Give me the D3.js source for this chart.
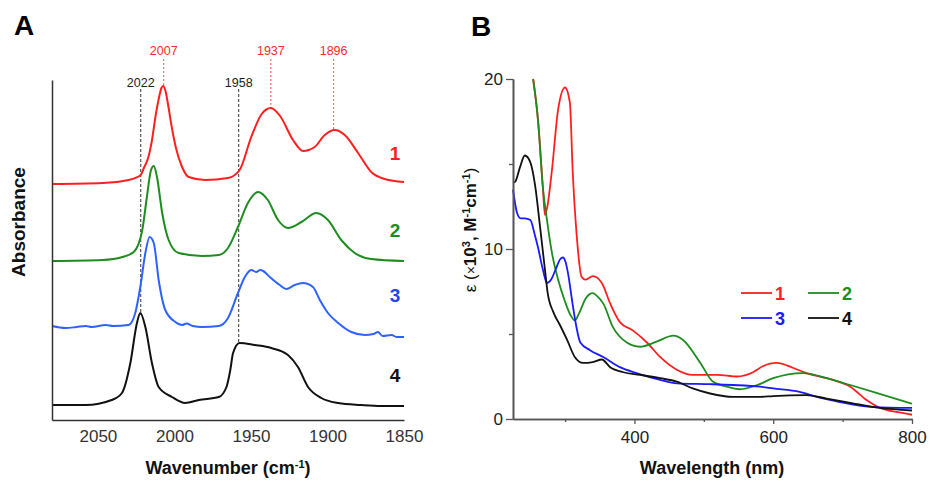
<!DOCTYPE html>
<html>
<head>
<meta charset="utf-8">
<script src="https://cdn.jsdelivr.net/npm/d3@7"></script>
<style>
  html, body { margin: 0; padding: 0; background: #fff; }
  text { font-family: "Liberation Sans", Arial, sans-serif; }
</style>
</head>
<body>
<svg id="chart" width="930" height="481"></svg>
<script>
// ---------- Panel A: IR spectra (wavenumber, absorbance a.u.) ----------
const irWave1 = [2080,2047,2030,2022,2020,2017,2015,2012,2010,2008.5,2007.3,2006,2004,2002,1999,1995,1990.7,1980,1965,1957.4,1949.8,1943,1937,1931,1922.5,1916,1908.4,1901.8,1895.3,1888.7,1880,1871.4,1862.6,1850];
const irAbs1  = [2.36,2.37,2.40,2.45,2.52,2.63,2.77,3.07,3.23,3.32,3.34,3.30,3.14,2.95,2.72,2.53,2.43,2.40,2.42,2.50,2.83,3.06,3.12,3.04,2.80,2.69,2.73,2.85,2.90,2.85,2.67,2.48,2.41,2.38];

const irWave2 = [2080,2047,2034,2026.6,2021,2018,2015.3,2013.5,2011.4,2008,2003.8,1997.2,1982,1971,1965,1958.5,1952,1945.4,1939,1932.3,1925.8,1917,1907.3,1899.7,1891,1882.2,1871.4,1850];
const irAbs2  = [1.59,1.60,1.63,1.68,1.90,2.23,2.50,2.54,2.43,2.07,1.80,1.67,1.64,1.65,1.72,1.93,2.17,2.28,2.20,2.00,1.92,1.98,2.07,2.00,1.80,1.67,1.61,1.59];

const irWave3 = [2080,2071,2064,2058,2054,2045,2040,2030,2025.6,2022.3,2019,2016.2,2013.5,2010.3,2006,1999.4,1995,1992,1988,1982,1971,1965,1958.5,1954,1949.8,1946.5,1944,1942,1937.7,1931.2,1926.9,1921.4,1916,1909.5,1905,1899.7,1893,1884.4,1875.6,1870,1867,1864,1858,1855,1850];
const irAbs3  = [0.94,0.92,0.93,0.94,0.93,0.95,0.94,0.95,1.07,1.33,1.67,1.83,1.77,1.40,1.10,0.98,0.95,0.965,0.94,0.93,0.94,1.02,1.27,1.43,1.50,1.48,1.50,1.49,1.43,1.35,1.31,1.35,1.37,1.33,1.20,1.07,0.97,0.88,0.85,0.86,0.88,0.84,0.85,0.83,0.83];

const irWave4 = [2080,2058,2041,2034.3,2028.8,2024.5,2022.3,2019,2014.7,2010.3,2001.6,1993,1984,1971,1966,1963.5,1961.7,1957.4,1947.6,1936.7,1925.8,1919.3,1912.7,1904,1893,1878,1865,1850];
const irAbs4  = [0.15,0.15,0.20,0.27,0.57,0.97,1.07,0.93,0.57,0.33,0.23,0.17,0.20,0.23,0.33,0.50,0.67,0.77,0.75,0.72,0.65,0.53,0.33,0.22,0.17,0.15,0.14,0.14];

const irTicks = [2050,2000,1950,1900,1850];
const irRedMarks = [2007,1937,1896];
const irRedMarkAbs = [3.34,3.12,2.90];
const irBlackMarks = [2022,1958];
const irBlackMarkAbs = [1.05,0.77];
const irLabelAbs = [2.60,1.83,1.18,0.38];

// ---------- Panel B: UV-vis (nm, epsilon x10^3) ----------
const uvNm1 = [254,261,268,271,274.5,281,290,300,307,311,317,324,329,340,353,365,379,398,418,437,461,484,519,548,571,585,605,629,648,686,711,735,754,780,800];
const uvEps1 = [20.0,17.6,13.65,12.0,12.5,14.6,18.2,19.5,18.6,14.6,10.7,8.35,8.2,8.4,8.0,6.8,5.7,5.2,4.5,3.65,2.9,2.6,2.6,2.5,2.75,3.1,3.3,3.0,2.7,2.3,1.9,1.1,0.65,0.4,0.25];

const uvNm2 = [254,261,268,274,281,290,300,308,314,320,330,340,347,355,369,389,408,432,456,470,495,513,533,552,577,600,643,677,711,744,800];
const uvEps2 = [20.0,17.6,13.65,11.7,9.8,8.2,6.9,6.1,5.8,6.2,7.1,7.4,7.2,6.8,5.4,4.5,4.25,4.55,4.9,4.65,3.3,2.2,1.9,1.75,2.0,2.4,2.7,2.4,2.0,1.6,0.9];

const uvNm3 = [225,231,236,242,250,256,261,268,274,280,286,293,297,301,305,310,316,322,336,355,379,403,437,461,509,542,581,600,638,663,696,744,800];
const uvEps3 = [13.5,12.1,11.8,11.8,11.7,10.9,10.1,8.8,8.0,8.2,8.75,9.4,9.5,9.2,8.4,7.0,5.5,4.5,4.05,3.65,3.05,2.7,2.3,2.1,2.05,2.0,1.9,1.8,1.6,1.3,1.0,0.7,0.65];

const uvNm4 = [225,228,235,242,250,257,264,271,275,283,293,303,314,326,340,353,365,384,408,437,461,484,509,542,581,600,648,677,711,754,800];
const uvEps4 = [13.9,13.95,14.8,15.5,15.1,13.7,11.3,8.8,7.4,6.3,5.5,4.65,3.65,3.3,3.35,3.5,3.05,2.75,2.6,2.4,2.2,1.8,1.5,1.3,1.3,1.35,1.4,1.2,0.95,0.65,0.5];

const uvMajorX = [400,600,800];
const uvMinorX = [300,500,700];
const uvMajorY = [0,10,20];
const uvMinorY = [5,15];

const seriesNames = ["1","2","3","4"];
const colorsA = ["#ff1f1f","#1f8c1f","#2e62ff","#111111"];
const labelColorsA = ["#ff1f1f","#1f8c1f","#2244ee","#111111"];
const colorsB = ["#ff1f1f","#1f8c1f","#1a1aff","#111111"];

// ---------- drawing ----------
const svg = d3.select("#chart");
svg.append("rect").attr("width",930).attr("height",481).attr("fill","#fff");

// Panel A
const xA = d3.scaleLinear().domain([2080,1850]).range([52,404]);
const yA = d3.scaleLinear().domain([0,3.4]).range([420,80]);
const gA = svg.append("g");

const irSets = [[irWave1,irAbs1],[irWave2,irAbs2],[irWave3,irAbs3],[irWave4,irAbs4]];
const lineA = d3.line().x(d=>xA(d[0])).y(d=>yA(d[1])).curve(d3.curveMonotoneX);

irBlackMarks.forEach((w,i)=>{
  gA.append("line").attr("x1",xA(w)).attr("x2",xA(w)).attr("y1",89).attr("y2",yA(irBlackMarkAbs[i]))
    .attr("stroke","#333").attr("stroke-width",1).attr("stroke-dasharray","3,2");
  gA.append("text").attr("x",xA(w)).attr("y",87).attr("text-anchor","middle")
    .attr("font-size",12.5).attr("fill","#222").text(w);
});
irRedMarks.forEach((w,i)=>{
  gA.append("line").attr("x1",xA(w)).attr("x2",xA(w)).attr("y1",59).attr("y2",yA(irRedMarkAbs[i]))
    .attr("stroke","#ff5050").attr("stroke-width",1).attr("stroke-dasharray","2,2");
  gA.append("text").attr("x",xA(w)).attr("y",55).attr("text-anchor","middle")
    .attr("font-size",12.5).attr("fill","#ff2a2a").text(w);
});

irSets.forEach((s,i)=>{
  const pts = s[0].map((w,j)=>[w,s[1][j]]);
  gA.append("path").datum(pts).attr("d",lineA).attr("fill","none")
    .attr("stroke",colorsA[i]).attr("stroke-width",2);
  gA.append("text").attr("x",395).attr("y",yA(irLabelAbs[i])).attr("text-anchor","middle")
    .attr("font-size",19).attr("font-weight","bold").attr("fill",labelColorsA[i])
    .text(seriesNames[i]);
});

const axA = gA.append("g").attr("transform","translate(0,420)")
  .call(d3.axisBottom(xA).tickValues(irTicks).tickSize(0).tickPadding(10).tickSizeOuter(0).tickFormat(d3.format("d")));
axA.select(".domain").attr("stroke","#333").attr("stroke-width",1.5);
axA.selectAll("text").attr("font-size",17).attr("fill","#333").attr("font-family","Liberation Sans, Arial, sans-serif");
const ayA = gA.append("g").attr("transform","translate(52,0)")
  .call(d3.axisLeft(yA).tickValues([]).tickSizeOuter(0));
ayA.select(".domain").attr("stroke","#333").attr("stroke-width",1.5);

gA.append("text").attr("x",228).attr("y",474).attr("text-anchor","middle")
  .attr("font-size",18).attr("font-weight","bold").attr("fill","#111")
  .html('Wavenumber (cm<tspan baseline-shift="super" font-size="11">-1</tspan>)');
gA.append("text").attr("transform","translate(25,222) rotate(-90)").attr("text-anchor","middle")
  .attr("font-size",19).attr("font-weight","bold").attr("fill","#111").text("Absorbance");
svg.append("text").attr("x",14).attr("y",35).attr("font-size",28).attr("font-weight","bold").attr("fill","#000").text("A");

// Panel B
const xB = d3.scaleLinear().domain([225,800]).range([513,912]);
const yB = d3.scaleLinear().domain([0,20]).range([419,79]);
const gB = svg.append("g");
const lineB = d3.line().x(d=>xB(d[0])).y(d=>yB(d[1])).curve(d3.curveMonotoneX);
const uvSets = [[uvNm1,uvEps1],[uvNm2,uvEps2],[uvNm3,uvEps3],[uvNm4,uvEps4]];
uvSets.forEach((s,i)=>{
  const pts = s[0].map((w,j)=>[w,s[1][j]]);
  gB.append("path").datum(pts).attr("d",lineB).attr("fill","none")
    .attr("stroke",colorsB[i]).attr("stroke-width",1.8);
});

const bx = gB.append("g").attr("transform","translate(0,419)")
  .call(d3.axisBottom(xB).tickValues(uvMajorX).tickSize(5).tickPadding(7).tickSizeOuter(0));
const bxm = gB.append("g").attr("transform","translate(0,419)")
  .call(d3.axisBottom(xB).tickValues(uvMinorX).tickSize(3).tickFormat("").tickSizeOuter(0));
const by = gB.append("g").attr("transform","translate(513,0)")
  .call(d3.axisLeft(yB).tickValues(uvMajorY).tickSize(7).tickPadding(3).tickSizeOuter(0));
const bym = gB.append("g").attr("transform","translate(513,0)")
  .call(d3.axisLeft(yB).tickValues(uvMinorY).tickSize(4).tickFormat("").tickSizeOuter(0));
[bx,bxm,by,bym].forEach(a=>{
  a.selectAll(".domain").attr("stroke","#555").attr("stroke-width",1.6);
  a.selectAll(".tick line").attr("stroke","#555").attr("stroke-width",1.3);
  a.selectAll("text").attr("font-size",17).attr("fill","#222").attr("font-family","Liberation Sans, Arial, sans-serif");
});

gB.append("text").attr("x",712).attr("y",474).attr("text-anchor","middle")
  .attr("font-size",18).attr("font-weight","bold").attr("fill","#111").text("Wavelength (nm)");
gB.append("text").attr("transform","translate(476,230) rotate(-90)").attr("text-anchor","middle")
  .attr("font-size",17).attr("fill","#111")
  .html('ε (<tspan font-size="14">×</tspan><tspan font-weight="bold">10</tspan><tspan baseline-shift="super" font-size="11" font-weight="bold">3</tspan><tspan font-weight="bold">, M</tspan><tspan baseline-shift="super" font-size="11" font-weight="bold">-1</tspan><tspan font-weight="bold">cm</tspan><tspan baseline-shift="super" font-size="11" font-weight="bold">-1</tspan>)');
svg.append("text").attr("x",471).attr("y",36).attr("font-size",28).attr("font-weight","bold").attr("fill","#000").text("B");

const legPos = [[741,293],[808,293],[741,318],[808,318]];
seriesNames.forEach((n,i)=>{
  const [lx,ly] = legPos[i];
  gB.append("line").attr("x1",lx).attr("x2",lx+31).attr("y1",ly).attr("y2",ly)
    .attr("stroke",colorsB[i]).attr("stroke-width",1.8);
  gB.append("text").attr("x",lx+34).attr("y",ly+6.5).attr("font-size",18).attr("font-weight","bold")
    .attr("fill",colorsB[i]).text(n);
});
</script>
</body>
</html>
